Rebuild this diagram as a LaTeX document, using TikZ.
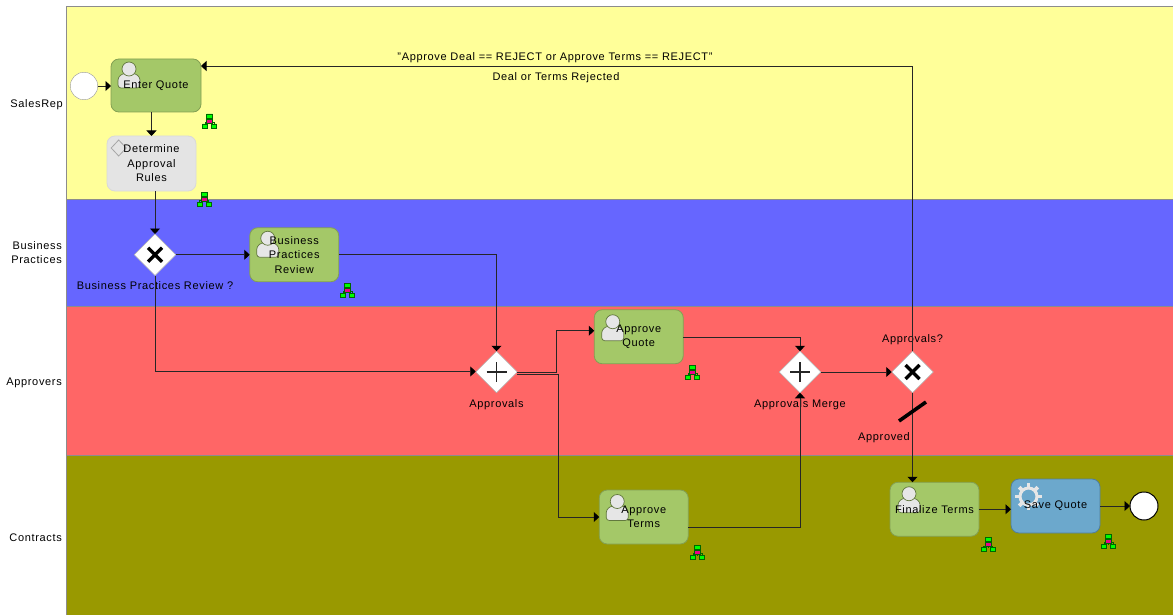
\documentclass[tikz,border=0pt]{standalone}
\usepackage{fontspec}
\setmainfont[LetterSpace=6]{Liberation Sans}
\usetikzlibrary{positioning,shapes.geometric,arrows.meta}

\definecolor{lanesales}{HTML}{FFFF99}
\definecolor{lanepractices}{HTML}{6666FF}
\definecolor{laneapprovers}{HTML}{FF6666}
\definecolor{lanecontracts}{HTML}{999900}
\definecolor{taskgreen}{HTML}{A4C868}
\definecolor{taskblue}{HTML}{6CA8CC}
\definecolor{taskgray}{HTML}{E4E4E4}
\definecolor{icongray}{HTML}{E6E6E6}

% head and shoulders of a user task
\newcommand{\usericon}[2]{
	\draw[fill=icongray, draw=black!40!taskgreen, line width=0.7pt, rounded corners=3pt]
	([shift={(#1,#2)}]path picture bounding box.center) ++(-11,19) -- ++(0,-11) -- ++(6,-4) -- ++(10,0) -- ++(6,4) -- ++(0,11) -- cycle;
	\draw[fill=icongray, draw=black!40!taskgreen, line width=0.7pt] ([shift={(#1,#2)}]path picture bounding box.center) circle (7);
}

\tikzset{
	orgicon/.pic={
		\draw[draw=green!40!black, line width=0.5pt] (0,-3) -- (0,3) (-4.5,3) -- (-4.5,1) -- (4.5,1) -- (4.5,3);
		\draw[fill=green, draw=green!40!black, line width=0.6pt] (-3,-7) rectangle (3,-3) (-7,3) rectangle (-2,7) (2,3) rectangle (7,7);
		\draw[fill=magenta, draw=green!40!black, line width=0.6pt] (-3,-2) rectangle (3,2);
	}
}

\begin{document}
\begin{tikzpicture}[
	x=1pt, y=-1pt,
	font=\fontsize{11}{14.5}\selectfont,
	lane/.style={draw=black!45, line width=0.6pt, rectangle, minimum width=1107pt, inner sep=0, outer sep=0},
	lanelabel/.style={align=right, inner sep=0, anchor=east},
	tasknode/.style={draw=black!20!taskgreen, line width=0.8pt, rectangle, rounded corners=8pt, fill=taskgreen, minimum width=89pt, minimum height=54pt, text width=86pt, align=center, inner sep=0, outer sep=0},
	usertask/.style 2 args={tasknode, path picture={\usericon{#1}{#2}}},
	eventnode/.style={draw, circle, fill=white, minimum size=27.5pt, inner sep=0, outer sep=0},
	gatenode/.style={draw=black!30, diamond, fill=white, minimum width=41.5pt, minimum height=41.5pt, inner sep=0, outer sep=0},
	xorgate/.style={gatenode, path picture={
		\draw[draw=black, line width=3.2pt] ([shift={(-7,-7)}]path picture bounding box.center) -- ([shift={(7,7)}]path picture bounding box.center);
		\draw[draw=black, line width=3.2pt] ([shift={(-7,7)}]path picture bounding box.center) -- ([shift={(7,-7)}]path picture bounding box.center);}},
	plusgate/.style={gatenode, path picture={
		\draw[draw=black!85, line width=1.3pt] ([shift={(-10,0)}]path picture bounding box.center) -- ([shift={(10,0)}]path picture bounding box.center);
		\draw[draw=black!85, line width=1.3pt] ([shift={(0,-10)}]path picture bounding box.center) -- ([shift={(0,10)}]path picture bounding box.center);}},
	flow/.style={draw=black!85, line width=0.8pt, -{Triangle[length=5.5pt,width=10pt,black]}},
	flowlabel/.style={inner sep=0}
	]
	
	\useasboundingbox (0,0) rectangle (1173,615);
	
	% lanes
	\node[lane, fill=lanesales, minimum height=193pt] (sales) at (619.5,103) {};
	\node[lane, fill=lanepractices, minimum height=107pt, below = 0pt of sales] (practices) {};
	\node[lane, fill=laneapprovers, minimum height=149pt, below = 0pt of practices] (approvers) {};
	\node[lane, fill=lanecontracts, minimum height=160pt, below = 0pt of approvers] (contracts) {};
	
	\node[lanelabel] (salesname) at (63,104.5) {SalesRep};
	\node[lanelabel] (practicesname) at (62,252.5) {Business\\Practices};
	\node[lanelabel] (approversname) at (62,383) {Approvers};
	\node[lanelabel] (contractsname) at (62,537.5) {Contracts};
	
	% tasks and gateways
	\node[eventnode, draw=black!40] (start) at (84,86) {};
	\node[usertask={-27}{-16.5}, minimum width=90pt, minimum height=53pt, right = 13.25pt of start, yshift=0.5pt] (enter) {Enter Quote};
	\node[tasknode, fill=taskgray, draw=black!15, minimum height=55pt, below = 24pt of enter, xshift=-4.5pt, path picture={
		\draw[draw=black!35, fill=taskgray, line width=0.8pt, sharp corners] ([shift={(-32.8,-15.5)}]path picture bounding box.center) ++(-7.5,0) -- ++(7.5,-8) -- ++(7.5,8) -- ++(-7.5,8) -- cycle;}] (rules) {Determine\\Approval\\Rules};
	\node[xorgate, below = 43pt of rules, xshift=3.5pt] (gwreview) {};
	\node[usertask={-26.5}{-16.5}, right = 74pt of gwreview] (review) {Business\\Practices\\Review};
	\node[plusgate, right = 300pt of gwreview, yshift=-117.25pt] (gwapprovals) {};
	\node[usertask={-26}{-15}, right = 77pt of gwapprovals, yshift=35.25pt] (quote) {Approve\\Quote};
	\node[usertask={-26.5}{-15.5}, right = 82pt of gwapprovals, yshift=-145pt] (terms) {Approve\\Terms};
	\node[plusgate, right = 262pt of gwapprovals] (gwmerge) {};
	\node[xorgate, right = 71pt of gwmerge] (gwdecision) {};
	\node[usertask={-25.5}{-15.5}, below = 89.5pt of gwdecision, xshift=22pt] (finalize) {Finalize Terms};
	\node[tasknode, fill=taskblue, draw=black!25!taskblue, right = 32pt of finalize, yshift=3.25pt, path picture={
		\foreach \a in {0,45,...,315}
			\draw[line width=3.6pt, draw=icongray, sharp corners] ([shift={(-27,-9.5)}]path picture bounding box.center) ++(\a:9) -- ++(\a:4.2);
		\draw[line width=3pt, draw=icongray] ([shift={(-27,-9.5)}]path picture bounding box.center) circle (8.5);}] (save) {Save Quote};
	\node[eventnode, line width=1pt, minimum size=28pt, right = 30pt of save] (finish) {};
	
	% texts beside the gateways and flows
	\node[flowlabel] (rejectcond) at (555,58) {"Approve Deal == REJECT or Approve Terms == REJECT"};
	\node[flowlabel] (rejectname) at (556,78) {Deal or Terms Rejected};
	\node[flowlabel, below = 6pt of gwreview] (gwreviewname) {Business Practices Review ?};
	\node[flowlabel, below = 7pt of gwapprovals] (gwapprovalsname) {Approvals};
	\node[flowlabel, below = 7pt of gwmerge] (gwmergename) {Approvals Merge};
	\node[flowlabel, above = 6pt of gwdecision] (gwdecisionname) {Approvals?};
	\node[flowlabel] (approvedname) at (884,437.5) {Approved};
	
	% subprocess marks
	\pic at ([shift={(53.5,35.5)}]enter.center) {orgicon};
	\pic at ([shift={(52.5,35.5)}]rules.center) {orgicon};
	\pic at ([shift={(53.5,35.5)}]review.center) {orgicon};
	\pic at ([shift={(53.5,35.5)}]quote.center) {orgicon};
	\pic at ([shift={(53.5,35.5)}]terms.center) {orgicon};
	\pic at ([shift={(53.5,35.5)}]finalize.center) {orgicon};
	\pic at ([shift={(53,35.5)}]save.center) {orgicon};
	
	% sequence flows
	\draw[flow] (start) -- (enter.west |- start);
	\draw[flow] (rules.north |- enter.south) -- (rules.north);
	\draw[flow] (gwreview.north |- rules.south) -- (gwreview.north);
	\draw[flow] (gwreview) -- (review.west |- gwreview);
	\draw[flow] (review.east) -| (gwapprovals.north);
	\draw[flow] (gwreview.south) |- ([yshift=0.5pt]gwapprovals.west);
	\draw[flow] (gwapprovals.east) -- ++(39,0) |- ([yshift=6pt]quote.west);
	\draw[flow] ([yshift=-2pt]gwapprovals.east) -- ++(41,0) |- (terms.west);
	\draw[flow] ([yshift=-0.75pt]quote.east) -| (gwmerge.north);
	\draw[flow] ([yshift=-10pt]terms.east) -| (gwmerge.south);
	\draw[flow] (gwmerge) -- (gwdecision);
	\draw[flow] (gwdecision.north) |- ([yshift=19.5pt]enter.east);
	\draw[flow] (gwdecision.south) -- (finalize.north -| gwdecision.south);
	\draw[flow] (finalize.east) -- (finalize.east -| save.west);
	\draw[flow] (save.east) -- (finish);
	
	% mark on the approved flow
	\draw[line width=3.6pt] ([shift={(-13.5,49)}]gwdecision.center) -- ([shift={(13.5,30)}]gwdecision.center);
	
\end{tikzpicture}
\end{document}
